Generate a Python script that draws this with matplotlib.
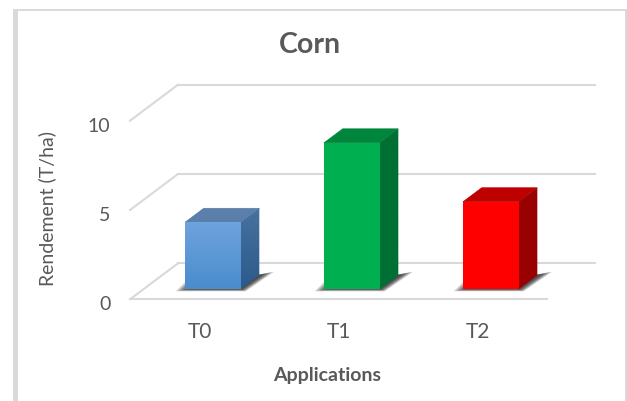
import numpy as np
import matplotlib
matplotlib.use("Agg")
import matplotlib.pyplot as plt
from matplotlib.colors import LinearSegmentedColormap
from matplotlib.patches import Polygon, Rectangle
from matplotlib.transforms import ScaledTranslation

categories = ["T0", "T1", "T2"]
values = [3.75, 8.2, 4.9]
y_ticks = [0, 5, 10]

front_tops = ["#6ea3dd", "#00b050", "#ff0000"]
front_bottoms = ["#4a8ccd", "#00b050", "#ff0000"]
top_colors = ["#5a7faa", "#00863c", "#bf0000"]
side_tops = ["#47729f", "#006f33", "#990000"]
side_bottoms = ["#2b5a8a", "#006f33", "#990000"]

GRID = "#d9d9d9"
TEXT = "#595959"
W, H = 627, 401

plt.rcParams["font.family"] = ["Lato", "DejaVu Sans"]

fig = plt.figure(figsize=(W / 100, H / 100), dpi=100, facecolor="white")
ax = fig.add_axes([130 / W, (H - 299.3) / H, 417 / W, 178.6 / H])
ax.set_xlim(-0.5, 2.5)
ax.set_ylim(0, 10)
ax.patch.set_visible(False)
for s in ax.spines.values():
    s.set_visible(False)

# oblique depth: full floor depth moves 48 px right and 36 px up
DX = 48 / 139
DY = 36 / 17.86


def proj(x, v, d):
    return x + d * DX, v + d * DY


def face(pts, color, color2=None, z=3):
    if color2 is None:
        ax.add_patch(Polygon(pts, closed=True, fc=color, ec=color, lw=0.5, zorder=z, clip_on=False))
        return
    xs = [p[0] for p in pts]
    ys = [p[1] for p in pts]
    cmap = LinearSegmentedColormap.from_list("f", [color, color2])
    im = ax.imshow(np.linspace(0, 1, 64).reshape(-1, 1), cmap=cmap, aspect="auto",
                   extent=(min(xs), max(xs), min(ys), max(ys)), origin="upper",
                   zorder=z, clip_on=True)
    im.set_clip_path(Polygon(pts, closed=True, transform=ax.transData))


# gridlines on the back wall and left wall, plus the front floor edge
for v in y_ticks:
    ax.plot(*zip(proj(-0.5, v, 1), proj(2.5, v, 1)), color=GRID, lw=1.5, zorder=1, clip_on=False)
    ax.plot(*zip(proj(-0.5, v, 0), proj(-0.5, v, 1)), color=GRID, lw=1.5, zorder=1, clip_on=False)
ax.plot([-0.5, 2.5], [0, 0], color=GRID, lw=1.5, zorder=1, clip_on=False)

half = 0.2
d0, d1 = 0.278, 0.667
for i, v in enumerate(values):
    l, r = i - half, i + half
    # soft floor shadow, layered from wide to narrow so it darkens towards the block
    outline = np.array([proj(l - 0.04, 0, 0.23), proj(r + 0.05, 0, 0.23), proj(r + 0.066, 0, 0.76),
                        proj(r - 0.02, 0, 0.68), proj(l - 0.06, 0, 0.48)])
    mid = outline.mean(axis=0)
    for scale, alpha in [(1.03, 0.2), (0.98, 0.25), (0.93, 0.3), (0.87, 0.35), (0.8, 0.4)]:
        ax.add_patch(Polygon(mid + (outline - mid) * scale, closed=True, fc="#2a2a2a", ec="none",
                             alpha=alpha, zorder=2, clip_on=False))
    # top, side and front faces of the block
    face([proj(l, v, d0), proj(r, v, d0), proj(r, v, d1), proj(l, v, d1)], top_colors[i], z=3)
    side = [proj(r, 0, d0), proj(r, 0, d1), proj(r, v, d1), proj(r, v, d0)]
    face(side, side_tops[i], side_bottoms[i], z=3)
    front = [proj(l, 0, d0), proj(r, 0, d0), proj(r, v, d0), proj(l, v, d0)]
    face(front, front_tops[i], front_bottoms[i], z=4)

ax.set_xlim(-0.5, 2.5)
ax.set_ylim(0, 10)
ax.set_xticks(range(len(categories)))
ax.set_xticklabels(categories, fontsize=15, color=TEXT)
ax.set_yticks(y_ticks)
ax.set_yticklabels([str(t) for t in y_ticks], fontsize=14, color=TEXT)
ax.tick_params(axis="both", length=0)
ax.tick_params(axis="x", pad=16)
ax.tick_params(axis="y", pad=14)

# y tick labels sit a little below their gridline ends
nudge = ScaledTranslation(0, -3 / 72, fig.dpi_scale_trans)
for lab in ax.get_yticklabels():
    lab.set_transform(lab.get_transform() + nudge)

fig.text(310 / W, 1 - 45 / H, "Corn", fontsize=20.5, fontweight="bold", color=TEXT, ha="center", va="center")
fig.text(47 / W, 1 - 209 / H, "Rendement (T/ha)", fontsize=14, color=TEXT, rotation=90, ha="center", va="center")
fig.text(327 / W, 1 - 375 / H, "Applications", fontsize=14, fontweight="bold", color=TEXT, ha="center", va="center")

# chart frame, open along the bottom edge
fig.add_artist(Rectangle((13 / W, 0), 4.5 / W, 1 - 9 / H, transform=fig.transFigure, fc=GRID, ec="none"))
fig.add_artist(Rectangle((13 / W, 1 - 11 / H), 1 - 13 / W, 2 / H, transform=fig.transFigure, fc=GRID, ec="none"))
fig.add_artist(Rectangle((625 / W, 0), 2 / W, 1 - 9 / H, transform=fig.transFigure, fc=GRID, ec="none"))

fig.savefig("out.png", dpi=100)
